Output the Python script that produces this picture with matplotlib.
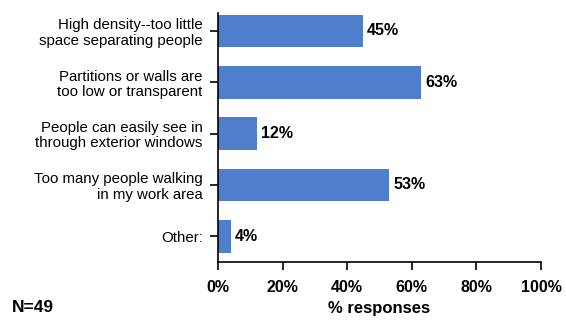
import matplotlib
matplotlib.use("Agg")
import matplotlib.pyplot as plt
from matplotlib.ticker import FuncFormatter

categories = ["High density--too little\nspace separating people",
              "Partitions or walls are\ntoo low or transparent",
              "People can easily see in\nthrough exterior windows",
              "Too many people walking\nin my work area",
              "Other:"]
values = [45, 63, 12, 53, 4]
xticks = [0, 20, 40, 60, 80, 100]

plt.rcParams['font.family'] = ['Liberation Sans', 'DejaVu Sans']

fig = plt.figure(figsize=(5.66, 3.22), dpi=100)
ax = fig.add_axes([218/566, 1-262/322, (541-218)/566, (262-13)/322])

pos = list(range(len(categories)))
ax.barh(pos, values, height=0.64, color='#4F7FCC')
for p, v in zip(pos, values):
    ax.text(v + 1.2, p, f"{v}%", va='center', ha='left', fontsize=11.5, fontweight='bold')

ax.set_ylim(4.5, -0.35)
ax.set_xlim(0, 100)
ax.set_yticks(pos)
ax.set_yticklabels(categories, fontsize=10.8, linespacing=1.12)
ax.set_xticks(xticks)
ax.xaxis.set_major_formatter(FuncFormatter(lambda x, _: f"{int(x)}%"))
for lbl in ax.get_xticklabels():
    lbl.set_fontweight('bold')
    lbl.set_fontsize(11.5)
ax.tick_params(axis='both', direction='out', length=6, width=1.2, colors='black')
ax.tick_params(axis='y', pad=5)
ax.tick_params(axis='x', pad=7)
ax.spines['top'].set_visible(False)
ax.spines['right'].set_visible(False)
for s in ('left', 'bottom'):
    ax.spines[s].set_linewidth(1.2)
ax.set_xlabel("% responses", fontsize=12, fontweight='bold', labelpad=4)
fig.text(12/566, 1-308/322, "N=49", fontsize=12.5, fontweight='bold', va='center', ha='left')

fig.savefig("out.png", dpi=100)
